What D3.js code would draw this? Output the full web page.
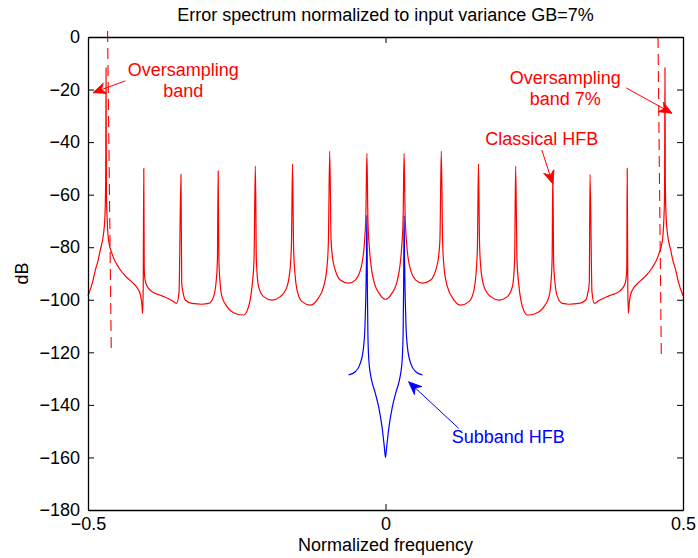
<!DOCTYPE html>
<html>
<head>
<meta charset="utf-8">
<script src="https://cdn.jsdelivr.net/npm/d3@7"></script>
<style>
  html, body { margin: 0; padding: 0; background: #fff; }
  svg text { font-family: "Liberation Sans", Arial, Helvetica, sans-serif; }
</style>
</head>
<body>
<svg id="chart" width="698" height="558"></svg>
<script>
// ---------------- data ----------------
const titleText = "Error spectrum normalized to input variance GB=7%";
const xLabel = "Normalized frequency";
const yLabel = "dB";
const xTicks = [-0.5, 0, 0.5];
const yTicks = [-180, -160, -140, -120, -100, -80, -60, -40, -20, 0];

// Classical HFB error spectrum (normalized frequency, dB)
const classicalFreq = [
  -0.5000, -0.4920, -0.4877, -0.4830, -0.4793, -0.4738, -0.4715, -0.4703, -0.4697, -0.4690,
  -0.4675, -0.4655, -0.4588, -0.4476, -0.4363, -0.4250, -0.4166, -0.4120, -0.4095, -0.4082,
  -0.4072, -0.40625, -0.4055, -0.4040, -0.4008, -0.3924, -0.3756, -0.3588, -0.3510, -0.3470,
  -0.34375, -0.3425, -0.3400, -0.3365, -0.3252, -0.3084, -0.2973, -0.2889, -0.2844, -0.2825,
  -0.28125, -0.2800, -0.2780, -0.2748, -0.2664, -0.2524, -0.2385, -0.2301, -0.2244, -0.2210,
  -0.21875, -0.2170, -0.2133, -0.2049, -0.1908, -0.1768, -0.1655, -0.1600, -0.1580, -0.15625,
  -0.1545, -0.1520, -0.1487, -0.1403, -0.1264, -0.1151, -0.1040, -0.0983, -0.0960, -0.09375,
  -0.0915, -0.0890, -0.0844, -0.0760, -0.0620, -0.0508, -0.0407, -0.0351, -0.0330, -0.03125,
  -0.0295, -0.0270, -0.0200, -0.0087, 0.0000,
  0.0087, 0.0200, 0.0270, 0.0295, 0.03125, 0.0330, 0.0351, 0.0407, 0.0508, 0.0620,
  0.0760, 0.0844, 0.0890, 0.0915, 0.09375, 0.0960, 0.0983, 0.1040, 0.1151, 0.1264,
  0.1403, 0.1487, 0.1520, 0.1545, 0.15625, 0.1580, 0.1600, 0.1655, 0.1768, 0.1908,
  0.2049, 0.2133, 0.2170, 0.21875, 0.2210, 0.2244, 0.2301, 0.2385, 0.2524, 0.2664,
  0.2748, 0.2780, 0.2800, 0.28125, 0.2825, 0.2844, 0.2889, 0.2973, 0.3084, 0.3252,
  0.3365, 0.3400, 0.3425, 0.34375, 0.3470, 0.3510, 0.3588, 0.3756, 0.3924, 0.4008,
  0.4040, 0.4055, 0.40625, 0.4072, 0.4082, 0.4095, 0.4120, 0.4166, 0.4250, 0.4363,
  0.4476, 0.4588, 0.4655, 0.4675, 0.4690, 0.4697, 0.4703, 0.4715, 0.4738, 0.4793,
  0.4830, 0.4877, 0.4920, 0.5000
];
const classicalDb = [
  -98.5, -93.0, -88.7, -85.0, -81.0, -74.7, -68.0, -55.0, -11.7, -60.0,
  -70.9, -77.3, -83.0, -88.0, -91.2, -93.5, -95.7, -98.0, -101.5, -105.2,
  -95.0, -50.0, -88.0, -92.5, -94.8, -96.9, -98.5, -100.3, -101.4, -97.0,
  -52.3, -93.5, -97.5, -100.1, -101.4, -101.7, -101.4, -98.8, -92.5, -85.0,
  -51.0, -85.0, -93.5, -98.8, -102.6, -105.2, -105.8, -102.6, -95.0, -85.0,
  -49.1, -85.0, -95.0, -98.8, -100.1, -98.8, -95.0, -87.4, -78.0, -48.3,
  -80.0, -90.5, -96.3, -100.7, -102.0, -100.1, -95.0, -87.4, -78.0, -43.4,
  -77.0, -84.0, -88.7, -92.5, -93.7, -92.5, -87.4, -77.3, -68.0, -44.3,
  -70.0, -80.5, -92.5, -98.2, -99.8,
  -98.2, -92.5, -80.5, -70.0, -44.3, -68.0, -77.3, -87.4, -92.5, -93.7,
  -92.5, -88.7, -84.0, -77.0, -43.4, -78.0, -87.4, -95.0, -100.1, -102.0,
  -100.7, -96.3, -90.5, -80.0, -48.3, -78.0, -87.4, -95.0, -98.8, -100.1,
  -98.8, -95.0, -85.0, -49.1, -85.0, -95.0, -102.6, -105.8, -105.2, -102.6,
  -98.8, -93.5, -85.0, -51.0, -85.0, -92.5, -98.8, -101.4, -101.7, -101.4,
  -100.1, -97.5, -93.5, -52.3, -97.0, -101.4, -100.3, -98.5, -96.9, -94.8,
  -92.5, -88.0, -50.0, -95.0, -105.2, -101.5, -98.0, -95.7, -93.5, -91.2,
  -88.0, -83.0, -77.3, -70.9, -60.0, -11.7, -55.0, -68.0, -74.7, -81.0,
  -85.0, -88.7, -93.0, -98.5
];

// Subband HFB error spectrum
const subbandFreq = [
  -0.0620, -0.0508, -0.0424, -0.0368, -0.0345, -0.0332, -0.0320, -0.03125, -0.0305, -0.0296,
  -0.0280, -0.0255, -0.0227, -0.0171, -0.0116, -0.0059, -0.0020, 0.0000,
  0.0020, 0.0059, 0.0116, 0.0171, 0.0227, 0.0255, 0.0280, 0.0296, 0.0305, 0.03125,
  0.0320, 0.0332, 0.0345, 0.0368, 0.0424, 0.0508, 0.0620
];
const subbandDb = [
  -128.6, -127.4, -124.2, -117.9, -110.3, -100.0, -85.0, -68.0, -95.0, -112.8,
  -122.9, -128.0, -131.2, -135.6, -140.7, -148.3, -155.9, -160.0,
  -155.9, -148.3, -140.7, -135.6, -131.2, -128.0, -122.9, -112.8, -95.0, -68.0,
  -85.0, -100.0, -110.3, -117.9, -124.2, -127.4, -128.6
];

// Oversampling band edges (dashed markers): [freq top, dB top, freq bottom, dB bottom]
const bandEdges = [
  [-0.4671, 2.3, -0.4609, -119.1],
  [0.4580, 0.0, 0.4635, -121.0]
];

// Annotations: text lines, text anchor (freq, dB), arrow tail & tip (freq, dB), colour
const annotations = [
  { lines: ["Oversampling", "band"], at: [-0.3398, -14.8], tail: [-0.4373, -16.7], tip: [-0.4916, -21.2], color: "#ff0000" },
  { lines: ["Oversampling", "band 7%"], at: [0.3022, -17.9], tail: [0.4047, -19.4], tip: [0.4815, -29.0], color: "#ff0000" },
  { lines: ["Classical HFB"], at: [0.2627, -41.1], tail: [0.2627, -43.0], tip: [0.2812, -55.9], color: "#ff0000" },
  { lines: ["Subband HFB"], at: [0.2064, -154.5], tail: [0.1229, -148.9], tip: [0.0388, -131.2], color: "#0000ff" }
];

// ---------------- drawing ----------------
const W = 698, H = 558;
const margin = { left: 88, right: 15, top: 37, bottom: 48 };
const x0 = margin.left, x1 = W - margin.right, y0 = margin.top, y1 = H - margin.bottom;

const svg = d3.select("#chart");
const x = d3.scaleLinear().domain([-0.5, 0.5]).range([x0, x1]);
const y = d3.scaleLinear().domain([-180, 0]).range([y1, y0]);

const FS = 18;

// curves
const line = d3.line().x(d => x(d[0])).y(d => y(d[1])).curve(d3.curveMonotoneX);
const subband = subbandFreq.map((f, i) => [f, subbandDb[i]]);
const classical = classicalFreq.map((f, i) => [f, classicalDb[i]]);

svg.append("path").datum(subband)
  .attr("d", line).attr("fill", "none").attr("stroke", "#0000ff").attr("stroke-width", 1.2);
svg.append("path").datum(classical)
  .attr("d", line).attr("fill", "none").attr("stroke", "#ff0000").attr("stroke-width", 1.2)
  .attr("stroke-linejoin", "miter").attr("stroke-miterlimit", 20);

// dashed band edges
svg.selectAll("line.edge").data(bandEdges).enter().append("line")
  .attr("class", "edge")
  .attr("x1", d => x(d[0])).attr("y1", d => y(d[1]))
  .attr("x2", d => x(d[2])).attr("y2", d => y(d[3]))
  .attr("stroke", "#ff0000").attr("stroke-width", 1.1).attr("stroke-dasharray", "11,6");

// axes
const axisStyle = g => {
  g.selectAll("path.domain").attr("stroke", "#000").attr("stroke-width", 1.3);
  g.selectAll(".tick line").attr("stroke", "#000").attr("stroke-width", 1);
  g.selectAll(".tick text").attr("fill", "#000").style("font-size", FS + "px")
    .style("font-family", '"Liberation Sans", Arial, sans-serif');
};
svg.append("g").attr("transform", `translate(${x0},0)`)
  .call(d3.axisLeft(y).tickValues(yTicks).tickSize(-6).tickSizeOuter(0).tickPadding(8))
  .call(axisStyle);
svg.append("g").attr("transform", `translate(${x1},0)`)
  .call(d3.axisRight(y).tickValues(yTicks).tickSize(-6).tickSizeOuter(0).tickFormat(""))
  .call(axisStyle);
svg.append("g").attr("transform", `translate(0,${y1})`)
  .call(d3.axisBottom(x).tickValues(xTicks).tickSize(-6).tickSizeOuter(0).tickPadding(7)
    .tickFormat(d => d === 0 ? "0" : d3.format("")(d).replace("-", "\u2212")))
  .call(axisStyle);
svg.append("g").attr("transform", `translate(0,${y0})`)
  .call(d3.axisTop(x).tickValues(xTicks).tickSize(-6).tickSizeOuter(0).tickFormat(""))
  .call(axisStyle);

// title & labels
svg.append("text").attr("x", (x0 + x1) / 2).attr("y", 21).attr("text-anchor", "middle")
  .style("font-size", FS + "px").text(titleText);
svg.append("text").attr("x", (x0 + x1) / 2).attr("y", 551).attr("text-anchor", "middle")
  .style("font-size", FS + "px").text(xLabel);
svg.append("text").attr("transform", `translate(28,${(y0 + y1) / 2}) rotate(-90)`)
  .attr("text-anchor", "middle").style("font-size", FS + "px").text(yLabel);

// annotations
function arrowHead(g, tx, ty, sx, sy, color) {
  const ang = Math.atan2(ty - sy, tx - sx);
  const L = 13, Wd = 5.5, N = 4;
  const pts = [[0, 0], [-L, -Wd], [-L + N, 0], [-L, Wd]].map(([a, b]) => [
    tx + a * Math.cos(ang) - b * Math.sin(ang),
    ty + a * Math.sin(ang) + b * Math.cos(ang)
  ]);
  g.append("polygon").attr("points", pts.map(p => p.join(",")).join(" "))
    .attr("fill", color).attr("stroke", color).attr("stroke-width", 0.8);
}
annotations.forEach(a => {
  const g = svg.append("g");
  const t = g.append("text").attr("x", x(a.at[0])).attr("y", y(a.at[1]))
    .attr("text-anchor", "middle").attr("fill", a.color).style("font-size", FS + "px");
  a.lines.forEach((l, i) => {
    t.append("tspan").attr("x", x(a.at[0])).attr("dy", i === 0 ? 0 : 21).text(l);
  });
  const sx = x(a.tail[0]), sy = y(a.tail[1]), tx = x(a.tip[0]), ty = y(a.tip[1]);
  g.append("line").attr("x1", sx).attr("y1", sy).attr("x2", tx).attr("y2", ty)
    .attr("stroke", a.color).attr("stroke-width", 1);
  arrowHead(g, tx, ty, sx, sy, a.color);
});
</script>
</body>
</html>
